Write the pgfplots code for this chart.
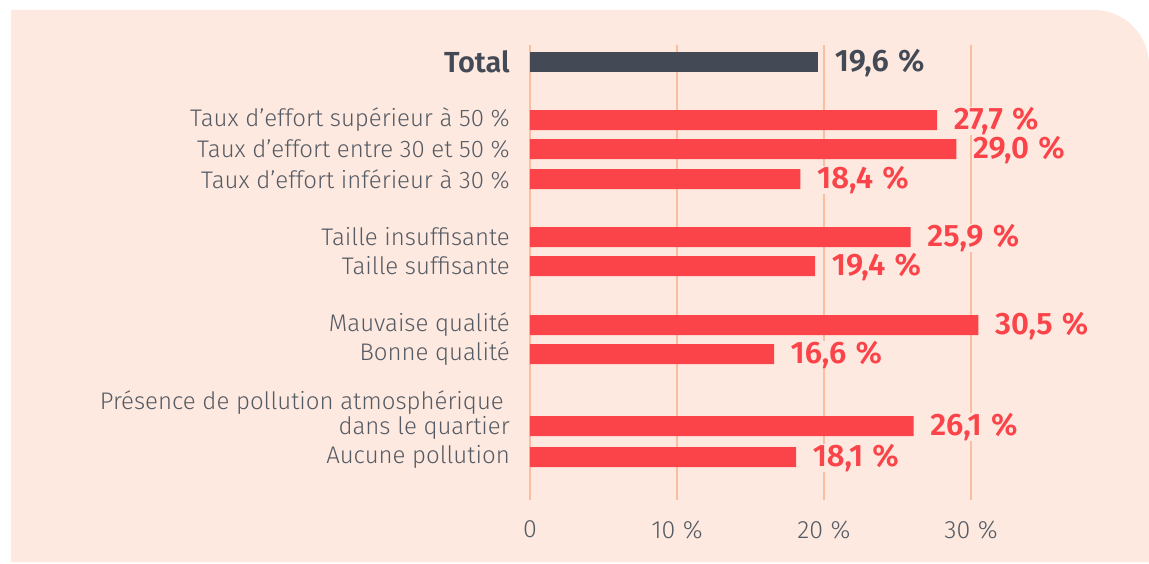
\documentclass[border=0pt]{standalone}
\usepackage{pgfplots}
\pgfplotsset{compat=1.18}
\usepackage{fontspec}
\setmainfont{Fira Sans}[UprightFont=* Light, BoldFont=* SemiBold]
\definecolor{bg}{HTML}{FDE9DF}
\definecolor{gridc}{HTML}{F8BE9F}
\definecolor{redc}{HTML}{FA444A}
\definecolor{darkc}{HTML}{434A55}
\definecolor{labc}{HTML}{555B64}
\begin{document}
\begin{tikzpicture}
\useasboundingbox (0,0) rectangle (1149pt,-564pt);
\fill[bg] (11pt,-562pt) -- (11pt,-10pt) -- (1094pt,-10pt) arc[start angle=90,end angle=0,radius=55pt] -- (1149pt,-562pt) -- cycle;
\begin{axis}[
  at={(530pt,-45pt)}, anchor=north west,
  x=14.7pt, y=1pt, y dir=reverse,
  xmin=0, xmax=40, ymin=45, ymax=500,
  axis line style={draw=none},
  major tick length=0pt,
  clip=false,
  /pgf/number format/assume math mode=true,
  xtick={0,10,20,30}, xticklabels={0,10\hspace{0.3em}\%,20\hspace{0.3em}\%,30\hspace{0.3em}\%},
  xmajorgrids, grid style={gridc, line width=1.4pt},
  xticklabel style={font=\fontsize{25}{27}\selectfont, text=labc, yshift=-17pt},
  ytick={62,120,149,179,237,266,325,354,415,457},
  yticklabels={{\fontsize{29}{32}\selectfont\bfseries\color{darkc}Total},
    Taux d’effort supérieur à 50~\%,
    Taux d’effort entre 30 et 50~\%,
    Taux d’effort inférieur à 30~\%,
    Taille insuffisante,
    Taille suffisante,
    Mauvaise qualité,
    Bonne qualité,
    Présence de pollution atmosphérique\hspace*{6pt}\\dans le quartier,
    Aucune pollution},
  yticklabel style={font=\fontsize{24}{25}\selectfont, text=labc, align=right, inner sep=0pt, xshift=-20pt},
  point meta=x,
  nodes near coords align={horizontal},
  nodes near coords={\pgfmathprintnumber[fixed,fixed zerofill,precision=1,use comma]{\pgfplotspointmeta}\hspace{0.3em}\%},
  nodes near coords style={font=\fontsize{31}{32}\selectfont\bfseries, inner sep=0.5pt, fill=bg, anchor=west, xshift=16pt, yshift=-1pt},
]
\addplot[xbar, bar width=20pt, bar shift=0pt, fill=darkc, draw=none,
  every node near coord/.append style={text=darkc}]
  coordinates {(19.6,62)};
\addplot[xbar, bar width=20pt, bar shift=0pt, fill=redc, draw=none,
  every node near coord/.append style={text=redc}]
  coordinates {(27.7,120) (29.0,149) (18.4,179) (25.9,237) (19.4,266) (30.5,325) (16.6,354) (26.1,426) (18.1,457)};
\end{axis}
\end{tikzpicture}
\end{document}
